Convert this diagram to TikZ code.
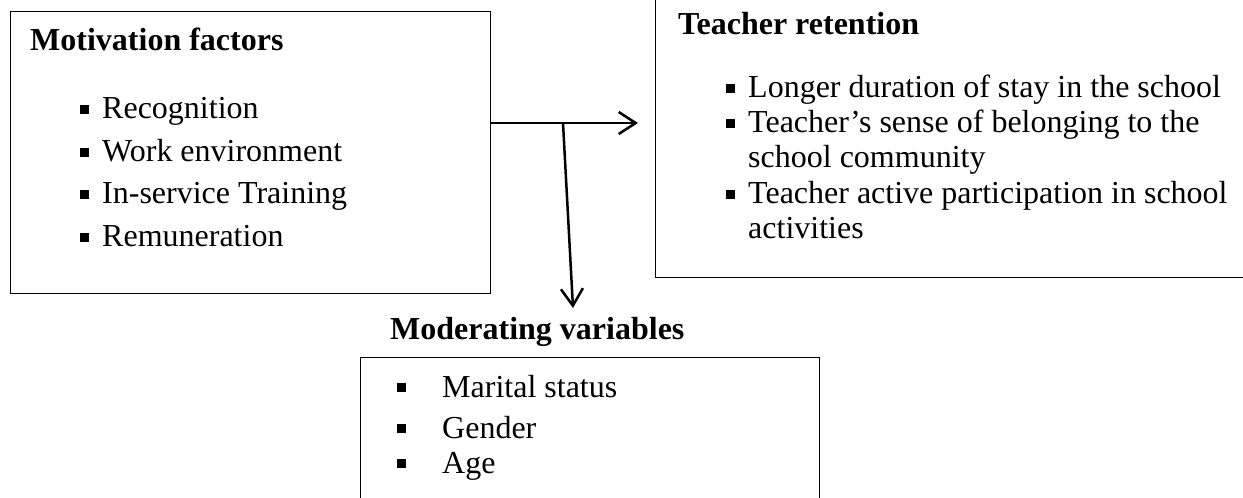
\documentclass[tikz,border=0pt]{standalone}
\usepackage{fontspec}
\setmainfont{Liberation Serif}
\usetikzlibrary{arrows.meta}
\newcommand{\bul}{\rule[5bp]{9bp}{9bp}}
\begin{document}
\begin{tikzpicture}[x=1bp,y=-1bp,
  box/.style={draw, line width=1bp, inner sep=0, anchor=north west},
  ttl/.style={font=\fontsize{32bp}{36bp}\selectfont\bfseries, anchor=base west, inner sep=0},
  itm/.style={font=\fontsize{32bp}{36bp}\selectfont, anchor=base west, inner sep=0},
  conn/.style={line width=2.5bp, -{Straight Barb[length=17bp,width=22bp]}}]
\clip (0,0) rectangle (1243,498);
\fill[white] (0,0) rectangle (1243,498);
% boxes
\node[box, minimum width=480bp, minimum height=282bp] (mot) at (10,11) {};
\node[box, minimum width=605bp, minimum height=282bp] (ret) at (655,-5) {};
\node[box, minimum width=459bp, minimum height=163bp] (mod) at (360,357) {};
% motivation factors
\node[ttl] (motT) at (30,51) {Motivation factors};
\node[itm] (m1) at (80,119) {\bul\hspace{13bp}Recognition};
\node[itm] (m2) at (80,162) {\bul\hspace{13bp}Work environment};
\node[itm] (m3) at (80,204) {\bul\hspace{13bp}In-service Training};
\node[itm] (m4) at (80,247) {\bul\hspace{13bp}Remuneration};
% teacher retention
\node[ttl] (retT) at (678,35) {Teacher retention};
\node[itm] (r1) at (726,98) {\bul\hspace{13bp}Longer duration of stay in the school};
\node[itm] (r2) at (726,133) {\bul\hspace{13bp}Teacher’s sense of belonging to the};
\node[itm] (r2b) at (748,168) {school community};
\node[itm] (r3) at (726,204) {\bul\hspace{13bp}Teacher active participation in school};
\node[itm] (r3b) at (748,239) {activities};
% moderating variables
\node[ttl] (modT) at (390,340) {Moderating variables};
\node[itm] (v1) at (397,397) {\bul\hspace{36bp}Marital status};
\node[itm] (v2) at (397,438) {\bul\hspace{36bp}Gender};
\node[itm] (v3) at (397,473) {\bul\hspace{36bp}Age};
% connectors
\coordinate (j) at (563,123);
\coordinate (dtip) at (573,308);
\draw[conn, shorten >=17bp] (mot.east |- j) -- (ret.west |- j);
\draw[conn] (j) -- (dtip);
\end{tikzpicture}
\end{document}
